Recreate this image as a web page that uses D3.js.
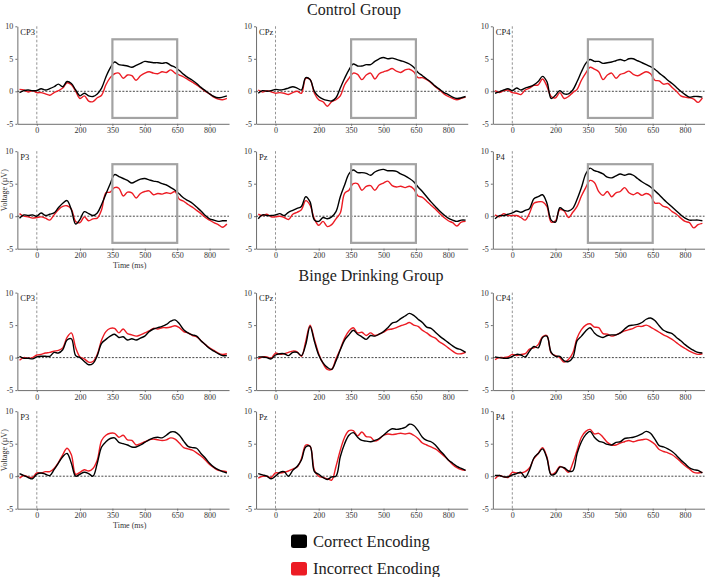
<!DOCTYPE html>
<html><head><meta charset="utf-8">
<script src="https://cdn.jsdelivr.net/npm/d3@7"></script>
<style>body{margin:0;background:#fff}svg{display:block}svg text{font-family:"Liberation Serif","Times New Roman",Times,"DejaVu Serif",serif}</style>
</head><body><svg id="c" width="708" height="577"></svg>
<script>
// ---------- DATA ----------
const times = [-80,-60,-40,-20,0,20,40,60,80,100,120,140,160,180,200,220,240,260,280,300,320,340,360,380,400,420,440,460,480,500,520,540,560,580,600,620,640,660,680,700,720,740,760,780,800,820,840,860,880];
const xTicks = [0,200,350,500,650,800];
const yTicks = [-5,0,5,10];
const channels = ["CP3","CPz","CP4","P3","Pz","P4"];
const groupTitles = ["Control Group","Binge Drinking Group"];
const seriesNames = ["Correct Encoding","Incorrect Encoding"];
const boxWindowMs = [350,650];
const boxWindowUv = [-4.1,8.0];

// Control group
const ctrlCP3Correct = [-0.2,0.1,0.2,0.1,0.1,0.4,0.2,0.4,0.7,1.1,0.7,1.5,1.2,0.2,-0.7,-0.3,-0.7,-0.8,-0.4,0.5,2.2,3.6,4.5,4.1,4.0,3.9,3.7,4.0,4.3,4.6,4.5,4.4,4.4,4.3,4.4,4.0,3.7,3.2,2.6,2.1,1.7,1.2,0.6,0.1,-0.4,-0.8,-1.0,-0.9,-0.7];
const ctrlCP3Incorrect = [0.3,0.2,-0.1,0.1,-0.2,-0.2,-0.4,-0.6,-0.2,0.1,0.5,1.3,1.0,0.0,-1.1,-0.7,-1.5,-1.6,-1.0,-0.6,1.0,2.1,2.7,2.8,2.0,2.5,2.4,1.7,2.4,2.8,3.0,2.8,2.7,3.0,2.9,3.3,2.8,2.5,2.2,1.8,1.4,1.0,0.5,0.0,-0.4,-0.9,-1.2,-1.3,-1.1];
const ctrlCPzCorrect = [-0.3,0.1,0.0,0.1,0.3,0.2,0.3,0.5,0.7,0.5,0.2,2.1,1.8,0.0,-0.8,-1.2,-1.4,-1.5,-1.0,0.5,2.0,3.3,4.2,3.9,3.9,4.1,4.1,4.6,5.0,5.2,5.0,5.1,4.9,4.7,4.5,4.2,3.7,2.9,2.4,1.9,1.4,0.8,0.3,-0.2,-0.5,-0.9,-1.1,-1.0,-0.8];
const ctrlCPzIncorrect = [0.2,-0.1,0.1,-0.1,-0.3,-0.2,-0.3,-0.5,-0.2,0.0,-0.3,2.0,1.8,-0.3,-1.3,-1.6,-2.3,-1.6,-1.3,-0.7,1.0,2.0,2.8,2.6,1.8,2.5,2.8,1.9,2.7,3.0,3.2,3.5,3.1,2.9,3.3,3.4,3.0,2.1,2.1,1.8,1.3,0.7,0.2,-0.4,-0.8,-1.1,-1.3,-1.1,-0.9];
const ctrlCP4Correct = [-0.3,-0.1,0.2,0.4,0.1,0.5,0.2,0.5,0.7,1.0,1.5,2.3,1.5,-1.1,-0.6,0.1,-0.4,-0.4,0.2,1.5,3.0,4.3,4.9,4.6,4.6,4.3,4.4,4.5,4.7,4.9,4.7,5.0,5.0,4.7,4.4,4.1,3.8,3.4,2.8,2.3,1.7,1.2,0.6,0.0,-0.5,-0.9,-0.8,-0.8,-0.9];
const ctrlCP4Incorrect = [0.1,-0.2,0.1,0.2,-0.2,-0.3,-0.5,0.2,0.5,0.9,1.0,1.9,0.8,-0.8,-1.0,-0.2,-1.1,-0.8,-0.2,0.3,1.7,2.8,3.7,3.4,3.0,1.8,2.5,2.8,2.0,2.6,2.8,3.1,2.6,2.4,2.7,3.0,2.7,1.7,1.6,1.1,1.2,0.6,0.0,-0.7,-0.9,-1.0,-1.2,-1.7,-1.0];
const ctrlP3Correct = [-0.3,0.2,0.1,0.2,0.0,0.5,0.1,0.3,0.5,1.3,2.0,2.4,1.0,-1.2,-0.5,0.7,0.4,0.1,0.5,1.8,3.4,5.0,6.4,6.1,5.8,5.5,5.1,5.4,5.7,5.8,5.6,5.4,5.3,5.0,4.8,4.4,4.0,3.4,2.8,2.4,2.0,1.4,0.8,0.1,-0.4,-0.6,-0.8,-0.7,-0.7];
const ctrlP3Incorrect = [0.4,0.0,-0.1,-0.3,-0.2,-0.1,-0.3,-0.6,0.2,1.0,1.5,1.6,1.1,-0.8,-1.0,-0.1,-0.7,-0.4,-0.3,1.0,3.6,3.7,4.4,4.3,3.1,3.7,3.6,2.8,3.5,3.8,3.9,3.3,3.5,3.4,3.6,3.5,3.8,2.6,2.3,1.8,1.4,0.9,0.4,-0.2,-0.6,-1.0,-1.3,-1.7,-1.2];
const ctrlPzCorrect = [-0.4,0.2,0.1,0.1,0.2,0.4,0.1,0.6,0.9,1.2,1.5,3.0,2.2,-0.6,-0.8,-0.2,-0.4,-0.1,0.7,3.0,4.8,6.5,7.1,6.7,6.7,6.6,6.3,6.8,7.1,7.2,7.0,7.0,6.9,6.5,6.2,5.8,5.3,4.5,3.8,3.0,2.2,1.5,0.8,0.2,-0.3,-0.6,-0.8,-0.6,-0.6];
const ctrlPzIncorrect = [0.3,0.1,0.3,-0.1,-0.1,0.0,-0.2,-0.5,0.3,0.6,1.0,2.4,1.7,-0.4,-1.4,-0.8,-1.6,-1.3,-0.4,0.5,3.5,4.0,5.0,5.0,4.0,4.6,4.7,4.0,4.8,5.1,5.4,4.7,4.5,4.6,4.4,4.6,4.2,3.1,2.9,2.3,1.7,1.1,0.4,-0.2,-0.7,-1.0,-1.5,-0.9,-0.8];
const ctrlP4Correct = [-0.4,0.1,0.1,0.3,0.5,0.8,0.6,0.9,1.2,2.7,3.0,3.3,2.0,-0.6,-0.9,1.3,0.9,0.8,1.2,2.6,4.4,6.5,7.4,7.0,6.8,6.5,6.0,5.9,6.2,6.5,6.3,6.5,6.3,5.8,5.3,4.9,4.5,3.9,3.3,2.6,2.0,1.4,0.8,0.2,-0.3,-0.6,-0.6,-0.6,-0.7];
const ctrlP4Incorrect = [0.2,-0.1,0.4,0.1,0.1,0.1,-0.2,-0.6,0.5,2.0,2.2,2.2,1.5,-0.9,-0.7,1.0,0.8,-0.2,0.6,1.5,3.1,4.4,5.5,5.2,3.8,3.2,3.8,3.0,3.6,3.8,4.4,3.6,3.3,3.6,3.2,3.5,3.2,2.0,2.0,1.5,1.3,0.7,0.3,-0.3,-0.8,-1.0,-1.8,-1.3,-1.1];

// Binge drinking group
const bingeCP3Correct = [0.2,-0.1,-0.1,-0.2,0.1,0.2,0.2,0.2,0.8,0.7,1.2,2.7,2.9,0.3,0.0,-0.6,-1.1,-0.9,0.3,2.2,2.8,3.3,3.6,3.1,3.2,2.7,2.9,2.7,3.0,3.3,4.0,4.4,4.6,4.8,5.1,5.6,5.8,5.2,4.3,3.8,3.5,3.3,2.6,2.0,1.4,1.0,0.6,0.3,0.3];
const bingeCP3Incorrect = [-0.4,0.0,-0.1,0.0,0.4,0.5,0.7,0.8,1.0,1.1,1.5,3.1,3.8,1.5,0.1,-0.2,-0.7,-0.6,0.5,2.7,4.0,4.5,4.5,3.8,4.4,3.7,3.5,3.3,3.5,3.8,4.1,4.5,4.4,4.6,4.6,4.7,4.9,4.6,4.0,3.8,3.4,3.2,2.6,2.0,1.5,1.1,0.7,0.5,0.6];
const bingeCPzCorrect = [0.1,0.1,0.0,-0.2,0.4,0.6,0.6,0.3,0.8,0.8,0.3,2.0,4.8,2.5,0.4,-0.8,-1.5,-1.8,-0.5,1.2,2.7,3.5,4.2,3.6,3.2,2.8,3.4,3.3,3.6,4.0,4.6,5.3,5.5,6.0,6.4,6.8,6.5,5.9,5.4,4.7,4.5,3.9,3.3,2.8,2.3,1.8,1.4,1.2,0.8];
const bingeCPzIncorrect = [-0.2,0.1,0.1,-0.1,0.7,0.5,0.6,0.8,1.0,0.9,0.2,2.5,5.0,2.8,0.6,-0.9,-1.8,-1.8,-0.2,1.3,3.0,4.1,4.6,3.8,3.9,3.4,3.8,3.4,3.6,3.9,4.3,4.4,4.6,4.9,5.1,5.4,5.0,4.8,4.2,3.8,3.3,3.0,2.4,2.0,1.5,1.0,0.6,0.6,0.8];
const bingeCP4Correct = [0.1,0.0,-0.1,-0.1,0.2,0.5,0.4,0.1,1.0,1.7,1.5,3.1,3.3,0.8,0.2,0.2,-0.5,-0.6,0.0,2.6,3.3,4.1,4.6,3.8,3.3,3.1,3.4,3.5,3.5,3.8,4.4,4.9,5.0,5.1,5.4,5.9,6.1,5.7,4.9,4.2,3.9,3.7,3.1,2.6,2.0,1.5,1.1,0.8,0.7];
const bingeCP4Incorrect = [-0.3,0.0,0.0,0.1,0.5,0.3,0.5,0.6,1.3,1.5,2.0,3.2,3.4,0.7,0.3,0.0,-0.7,-0.3,0.7,3.0,4.3,5.0,5.2,4.7,4.6,3.7,3.6,3.3,3.5,3.8,4.1,4.3,4.5,4.8,4.8,5.0,4.7,4.3,3.9,3.5,3.2,2.8,2.3,1.8,1.4,1.0,0.7,0.5,0.6];
const bingeP3Correct = [0.4,0.1,-0.2,-0.4,0.3,0.5,0.3,0.1,1.0,2.0,3.0,3.5,2.0,0.0,0.3,0.6,0.4,0.0,2.0,4.5,5.3,5.8,5.9,5.2,5.0,4.8,4.5,4.5,4.8,5.2,5.6,5.9,6.0,5.9,6.3,6.8,6.8,6.3,5.4,4.6,4.4,4.3,3.5,2.8,2.0,1.4,1.0,0.7,0.5];
const bingeP3Incorrect = [-0.3,0.1,-0.1,-0.2,0.5,0.5,0.7,0.7,1.2,2.1,3.3,4.3,3.3,0.3,0.6,1.0,0.8,1.2,2.5,5.5,6.3,6.6,6.6,6.0,6.3,5.6,5.5,4.8,5.0,5.3,5.6,5.7,5.6,5.5,5.6,5.9,5.7,5.1,4.4,4.2,4.0,3.6,3.1,2.5,1.8,1.3,0.9,0.8,0.7];
const bingePzCorrect = [0.4,0.2,0.0,-0.4,0.0,0.6,0.7,0.0,0.9,1.5,2.5,4.5,4.6,0.7,0.3,-0.2,-0.5,-0.1,0.0,3.0,5.0,6.3,6.7,6.0,5.5,5.4,5.3,5.5,5.8,6.3,6.9,7.3,7.2,7.3,7.5,8.0,7.8,7.0,6.0,5.5,5.3,4.8,4.0,3.3,2.5,2.0,1.5,1.2,0.9];
const bingePzIncorrect = [-0.3,0.0,0.0,-0.2,0.5,0.5,0.6,0.8,1.1,1.4,2.7,4.8,4.6,0.9,0.0,-0.2,-0.4,-0.6,1.5,4.0,6.0,7.0,7.0,6.2,6.8,6.1,6.0,5.4,5.7,6.3,6.5,6.4,6.5,6.6,6.5,6.6,6.3,5.8,5.1,4.8,4.5,4.2,3.7,3.1,2.5,1.8,1.3,1.0,0.9];
const bingeP4Correct = [0.1,0.1,-0.1,-0.1,0.2,0.4,0.6,-0.2,1.0,2.8,3.5,4.2,2.8,0.2,0.4,1.4,1.3,0.8,0.8,3.5,5.3,6.4,6.9,6.0,5.4,5.2,4.9,4.8,5.2,5.3,5.8,5.9,6.0,6.2,6.5,6.9,6.6,5.7,4.7,4.5,4.2,3.8,3.2,2.5,1.9,1.3,1.0,0.9,0.5];
const bingeP4Incorrect = [-0.4,0.1,-0.1,-0.2,0.6,0.5,0.5,0.7,1.3,2.7,3.5,4.4,3.0,0.3,0.6,1.5,1.2,0.6,2.0,4.0,6.0,6.9,7.2,6.5,6.6,6.0,5.2,4.8,4.8,5.1,5.3,5.5,5.3,5.5,5.6,5.7,5.4,4.9,4.1,3.8,3.6,3.3,2.8,2.2,1.6,1.1,0.6,0.5,0.6];

// ---------- LAYOUT ----------
const svg = d3.select("#c");
const SERIF = '"Liberation Serif","Times New Roman",Times,"DejaVu Serif",serif';
const colors = ["#000000", "#ec1c24"];
const colX0 = [36.8, 275.5, 512.3];        // pixel x of t = 0 per column
const rowY0 = [91.3, 216.2, 357.6, 476.2]; // pixel y of 0 µV per row
const pxPerMs = 0.216, pxPerUv = 6.5;
const xDomain = [-90, 890], yDomain = [-5, 10];

const panels = [
  {row:0,col:0,ch:channels[0],s:[ctrlCP3Correct,ctrlCP3Incorrect],box:true},
  {row:0,col:1,ch:channels[1],s:[ctrlCPzCorrect,ctrlCPzIncorrect],box:true},
  {row:0,col:2,ch:channels[2],s:[ctrlCP4Correct,ctrlCP4Incorrect],box:true},
  {row:1,col:0,ch:channels[3],s:[ctrlP3Correct,ctrlP3Incorrect],box:true,ylab:true,xlab:true},
  {row:1,col:1,ch:channels[4],s:[ctrlPzCorrect,ctrlPzIncorrect],box:true},
  {row:1,col:2,ch:channels[5],s:[ctrlP4Correct,ctrlP4Incorrect],box:true},
  {row:2,col:0,ch:channels[0],s:[bingeCP3Correct,bingeCP3Incorrect]},
  {row:2,col:1,ch:channels[1],s:[bingeCPzCorrect,bingeCPzIncorrect]},
  {row:2,col:2,ch:channels[2],s:[bingeCP4Correct,bingeCP4Incorrect]},
  {row:3,col:0,ch:channels[3],s:[bingeP3Correct,bingeP3Incorrect],ylab:true,xlab:true},
  {row:3,col:1,ch:channels[4],s:[bingePzCorrect,bingePzIncorrect]},
  {row:3,col:2,ch:channels[5],s:[bingeP4Correct,bingeP4Incorrect]},
];

function txt(sel, size, fill) {
  return sel.style("font-family", SERIF).attr("font-size", size).attr("fill", fill || "#333");
}

panels.forEach(p => {
  const x0 = colX0[p.col], y0 = rowY0[p.row];
  const x = d3.scaleLinear().domain(xDomain).range([x0 + pxPerMs*xDomain[0], x0 + pxPerMs*xDomain[1]]);
  const y = d3.scaleLinear().domain(yDomain).range([y0 - pxPerUv*yDomain[0], y0 - pxPerUv*yDomain[1]]);
  const g = svg.append("g");

  const ya = g.append("g").attr("transform", `translate(${x(xDomain[0])},0)`)
    .call(d3.axisLeft(y).tickValues(yTicks).tickSize(2).tickSizeOuter(0).tickPadding(2).tickFormat(d => String(d)));
  const xa = g.append("g").attr("transform", `translate(0,${y(yDomain[0])})`)
    .call(d3.axisBottom(x).tickValues(xTicks).tickSize(2).tickSizeOuter(0).tickPadding(2).tickFormat(d => String(d)));
  [ya, xa].forEach(a => {
    a.attr("font-family", null);
    a.select(".domain").attr("stroke", "#6e6e6e").attr("stroke-width", 1);
    a.selectAll(".tick line").attr("stroke", "#6e6e6e");
    txt(a.selectAll("text"), 8, "#333");
  });

  g.append("line").attr("x1", x(xDomain[0])).attr("x2", x(xDomain[1]))
    .attr("y1", y(0)).attr("y2", y(0)).attr("stroke", "#333").attr("stroke-width", 0.9).attr("stroke-dasharray", "2,1.5");
  g.append("line").attr("x1", x(0)).attr("x2", x(0))
    .attr("y1", y(yDomain[1])).attr("y2", y(yDomain[0])).attr("stroke", "#888").attr("stroke-width", 0.9).attr("stroke-dasharray", "2.5,2");

  const line = d3.line().x((d, i) => x(times[i])).y(d => y(d)).curve(d3.curveCatmullRom.alpha(0.5));
  [1, 0].forEach(k => {
    g.append("path").datum(p.s[k]).attr("d", line).attr("fill", "none")
      .attr("stroke", colors[k]).attr("stroke-width", 1.4).attr("stroke-linejoin", "round");
  });

  if (p.box) {
    g.append("rect").attr("x", x(boxWindowMs[0])).attr("y", y(boxWindowUv[1]))
      .attr("width", x(boxWindowMs[1]) - x(boxWindowMs[0])).attr("height", y(boxWindowUv[0]) - y(boxWindowUv[1]))
      .attr("fill", "none").attr("stroke", "#a3a3a3").attr("stroke-width", 2.2);
  }

  txt(g.append("text").attr("x", x(xDomain[0]) + 3).attr("y", y(yDomain[1]) + 8.5), 8.5, "#222").text(p.ch);

  if (p.ylab) {
    txt(g.append("text").attr("transform", `translate(7,${y(4)}) rotate(-90)`).attr("text-anchor", "middle"), 8, "#333")
      .text("Voltage (µV)");
  }
  if (p.xlab) {
    txt(g.append("text").attr("x", x(430)).attr("y", y(yDomain[0]) + 19.5).attr("text-anchor", "middle"), 8, "#333")
      .text("Time (ms)");
  }
});

txt(svg.append("text").attr("x", 354).attr("y", 15).attr("text-anchor", "middle"), 16, "#222").text(groupTitles[0]);
txt(svg.append("text").attr("x", 371).attr("y", 281).attr("text-anchor", "middle"), 16, "#222").text(groupTitles[1]);

seriesNames.forEach((name, k) => {
  const yy = 534.5 + k * 27.5;
  svg.append("rect").attr("x", 291).attr("y", yy).attr("width", 16).attr("height", 13.5).attr("rx", 2.5)
    .attr("fill", colors[k]);
  txt(svg.append("text").attr("x", 313).attr("y", yy + 12), 16.5, "#222").text(name);
});
</script>
</body></html>
